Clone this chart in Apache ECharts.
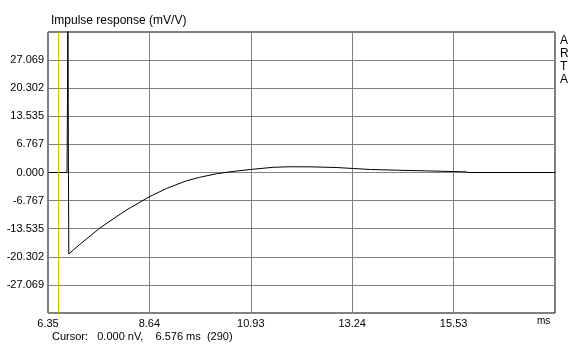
<!DOCTYPE html>
<html>
<head>
<meta charset="utf-8">
<script src="https://cdn.jsdelivr.net/npm/echarts@6/dist/echarts.min.js"></script>
<style>
  html, body { margin: 0; padding: 0; background: #fff; }
  #main { width: 578px; height: 345px; }
</style>
</head>
<body>
<div id="main"></div>
<script>
// impulse response samples (time in ms, value in mV/V)
var times = [6.35, 6.78, 6.79, 6.80, 6.81, 6.82, 7.06, 7.52, 7.82, 8.12, 8.64, 9.03, 9.48, 9.78,
             10.16, 10.53, 10.92, 11.44, 11.8, 12.3, 12.88, 13.25, 13.64, 14.25, 14.96, 15.8, 15.85, 17.8125];
var values = [0, 0, 16.6, 45, 6.9, -19.6, -17.4, -13.4, -11.2, -9.05, -5.85, -3.84, -2.0, -1.15,
              -0.3, 0.25, 0.72, 1.25, 1.38, 1.36, 1.2, 0.96, 0.72, 0.55, 0.38, 0.15, 0, 0];
var xTickLabels = ['6.35', '8.64', '10.93', '13.24', '15.53'];
var xStart = 6.35;
var xStep = 2.2925;
var yStep = 6.76735;
var cursorTime = 6.576;

var font = "'Liberation Sans', Arial, sans-serif";
var chart = echarts.init(document.getElementById('main'));

var option = {
    animation: false,
    backgroundColor: '#fff',
    grid: {
        left: 48, top: 32, width: 507, height: 281,
        show: true, borderColor: '#000', borderWidth: 1, backgroundColor: '#fff'
    },
    xAxis: {
        type: 'value',
        min: xStart,
        max: xStart + 5 * xStep,
        interval: xStep,
        axisLine: { show: false },
        axisTick: { show: false },
        splitLine: { show: true, lineStyle: { color: '#808080', width: 1 } },
        axisLabel: {
            showMaxLabel: false,
            margin: 5,
            color: '#000',
            fontSize: 11,
            fontFamily: font,
            formatter: function (v) {
                var i = Math.round((v - xStart) / xStep);
                return xTickLabels[i] || '';
            }
        }
    },
    yAxis: {
        type: 'value',
        min: -5 * yStep,
        max: 5 * yStep,
        interval: yStep,
        axisLine: { show: false },
        axisTick: { show: false },
        splitLine: { show: true, lineStyle: { color: '#808080', width: 1 } },
        axisLabel: {
            showMinLabel: false,
            showMaxLabel: false,
            margin: 4,
            color: '#000',
            fontSize: 11,
            fontFamily: font,
            formatter: function (v) { return v.toFixed(3); }
        }
    },
    series: [{
        type: 'line',
        data: times.map(function (t, i) { return [t, values[i]]; }),
        showSymbol: false,
        clip: true,
        lineStyle: { color: '#000', width: 1 },
        markLine: {
            silent: true,
            symbol: 'none',
            label: { show: false },
            lineStyle: { color: '#c8c800', width: 1, type: 'solid' },
            data: [{ xAxis: cursorTime }]
        }
    }],
    graphic: [
        {
            type: 'text', left: 51, top: 15,
            style: { text: 'Impulse response (mV/V)', fontSize: 12, fontFamily: font, fill: '#000' }
        },
        {
            type: 'text', left: 560, top: 34,
            style: { text: 'A\nR\nT\nA', fontSize: 12, lineHeight: 13, fontFamily: font, fill: '#000', align: 'center' }
        },
        {
            type: 'text', left: 537, top: 316,
            style: { text: 'ms', fontSize: 10, fontFamily: font, fill: '#000' }
        },
        {
            type: 'text', left: 52, top: 331,
            style: { text: 'Cursor:   0.000 nV,    6.576 ms  (290)', fontSize: 11, fontFamily: font, fill: '#000' }
        }
    ]
};

chart.setOption(option);
</script>
</body>
</html>
